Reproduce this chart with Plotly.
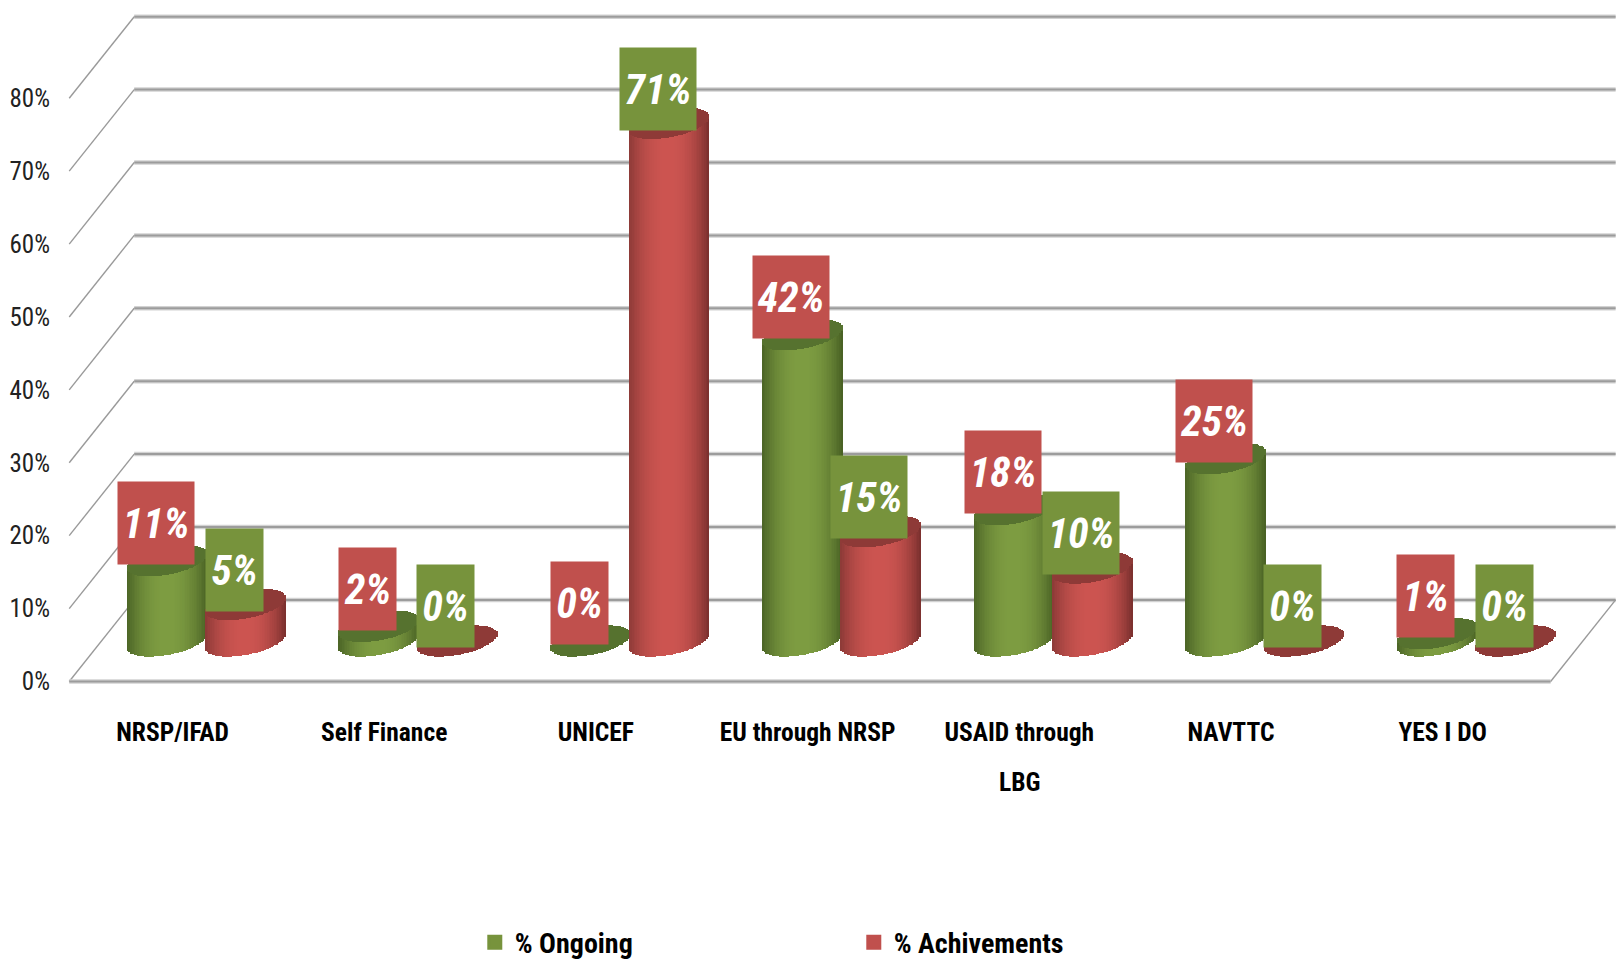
import numpy as np
import plotly.graph_objects as go

categories = ["NRSP/IFAD", "Self Finance", "UNICEF", "EU through NRSP", "USAID through|LBG", "NAVTTC", "YES I DO"]
ongoing = [11, 2, 0, 42, 18, 25, 1]
achievements = [5, 0, 71, 15, 10, 0, 0]
y_ticks = [0, 10, 20, 30, 40, 50, 60, 70, 80]

FONT = "Roboto Condensed, Liberation Sans Narrow, Arial Narrow, sans-serif"
GREEN, RED = "#77933c", "#c0504d"

DEPTH_X, DEPTH_Y = 0.307, 11.19      # wall offset from the front plane
FRONT_L, FRONT_R = -0.488, 6.51
BACK_R = FRONT_R + DEPTH_X
FLOOR = 5.55                         # cylinders stand mid-floor
HALF_W, ELL_B, ELL_S = 0.19, 1.92, 0.96
OFFSET = {"g": -0.025, "r": 0.345}
N = 48


def shade(edge_l, mid, edge_r, u):
    e = edge_l if u < 0 else edge_r
    t = abs(u) ** 2.2
    c = [mid[i] + (e[i] - mid[i]) * t for i in range(3)]
    return "rgb(%d,%d,%d)" % tuple(c)


def cylinder_traces(values, dx, edge_l, mid, edge_r, top):
    xs, body_base, body_h, body_c, top_base, top_h = [], [], [], [], [], []
    us = (np.arange(N) + 0.5) / N * 2 - 1
    for i, v in enumerate(values):
        for u in us:
            half = ELL_B * np.sqrt(1 - u * u)
            c0 = FLOOR + ELL_S * u
            xs.append(i + dx + u * HALF_W)
            body_base.append(c0 - half)
            body_h.append(v + half)
            body_c.append(shade(edge_l, mid, edge_r, u))
            top_base.append(c0 + v - half)
            top_h.append(2 * half)
    w = 2 * HALF_W / N * 1.25
    return [
        go.Bar(x=xs, y=body_h, base=body_base, width=w, marker=dict(color=body_c, line_width=0),
               showlegend=False, hoverinfo="skip"),
        go.Bar(x=xs, y=top_h, base=top_base, width=w, marker=dict(color=top, line_width=0),
               showlegend=False, hoverinfo="skip"),
    ]


fig = go.Figure()
for t in cylinder_traces(ongoing, OFFSET["g"], (75, 100, 38), (126, 157, 66), (72, 96, 36), "#56722f"):
    fig.add_trace(t)
for t in cylinder_traces(achievements, OFFSET["r"], (140, 58, 55), (205, 85, 81), (122, 48, 46), "#8e3a37"):
    fig.add_trace(t)

fig.add_trace(go.Bar(x=[None], y=[None], name="% Ongoing",
                     marker=dict(color=GREEN, line=dict(color=GREEN, width=3))))
fig.add_trace(go.Bar(x=[None], y=[None], name="% Achivements",
                     marker=dict(color=RED, line=dict(color=RED, width=3))))


def line(x0, y0, x1, y1, color, width):
    return dict(type="line", xref="x", yref="y", x0=x0, y0=y0, x1=x1, y1=y1, layer="below",
                line=dict(color=color, width=width))


shapes = []
for v in y_ticks:
    by = v + DEPTH_Y
    shapes.append(line(FRONT_L, v, FRONT_L + DEPTH_X, by, "#9a9a9a", 1.4))
    shapes.append(line(FRONT_L + DEPTH_X, by, BACK_R, by, "#d2d2d2", 4.5))
    shapes.append(line(FRONT_L + DEPTH_X, by, BACK_R, by, "#9c9c9c", 2))
shapes.append(line(BACK_R, y_ticks[0] + DEPTH_Y, FRONT_R, y_ticks[0], "#9a9a9a", 1.4))
shapes.append(line(FRONT_L, y_ticks[0], FRONT_R, y_ticks[0], "#d2d2d2", 4.5))
shapes.append(line(FRONT_L, y_ticks[0], FRONT_R, y_ticks[0], "#9c9c9c", 2))

annotations = []
for series, dx, bg, shift in ((ongoing, OFFSET["g"], RED, -0.6), (achievements, OFFSET["r"], GREEN, -1.0)):
    for i, v in enumerate(series):
        text = f"{v}%"
        annotations.append(dict(
            x=i + dx - 0.054, y=FLOOR + v + shift, xref="x", yref="y", xanchor="center", yanchor="bottom",
            text=f"<b><i>{text}</i></b>", showarrow=False, bgcolor=bg, borderpad=0,
            width=76 if len(text) == 3 else 57, height=82, valign="middle", align="center",
            font=dict(family=FONT, size=42, color="white"),
        ))

# Second line of a wrapped category sits further down than a normal line break allows.
tick_text = []
for i, c in enumerate(categories):
    parts = c.split("|")
    tick_text.append(parts[0])
    if len(parts) > 1:
        annotations.append(dict(
            x=i, y=-0.1328, xref="x", yref="paper", xanchor="center", yanchor="middle",
            text=parts[1], showarrow=False,
            font=dict(family=FONT, size=25.5, color="black", weight="bold"),
        ))

fig.update_layout(
    width=1619, height=970, autosize=False,
    margin=dict(l=58, r=0, t=0, b=280, autoexpand=False),
    paper_bgcolor="white", plot_bgcolor="white",
    barmode="overlay", bargap=0,
    shapes=shapes, annotations=annotations,
    showlegend=True,
    legend=dict(orientation="h", x=0.267, y=-0.366, xanchor="left", yanchor="middle",
                entrywidth=334, entrywidthmode="pixels",
                font=dict(family=FONT, size=28, color="black", weight="bold"),
                itemclick=False, itemdoubleclick=False),
    xaxis=dict(range=[-0.541, 6.833], tickmode="array", tickvals=list(range(len(categories))),
               ticktext=tick_text, showgrid=False, zeroline=False, showline=False,
               ticks="outside", ticklen=19, tickcolor="rgba(0,0,0,0)",
               tickfont=dict(family=FONT, size=25.5, color="black", weight="bold"), tickangle=0),
    yaxis=dict(range=[-1.17, 93.48], tickmode="array", tickvals=y_ticks, ticktext=[f"{v}%" for v in y_ticks],
               showgrid=False, zeroline=False, showline=False,
               ticks="outside", ticklen=2, tickcolor="rgba(0,0,0,0)",
               tickfont=dict(family=FONT, size=25, color="#222222")),
)

fig.write_html("out.html", config={"displayModeBar": False},
               post_script="document.body.style.margin='0';document.documentElement.style.overflow='hidden';")
